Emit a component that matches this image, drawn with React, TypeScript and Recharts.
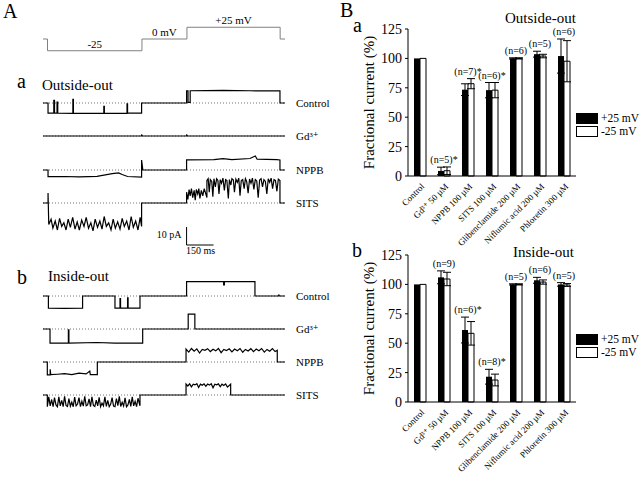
import React from 'react';
import {
  ComposedChart, LineChart, Line, Bar, XAxis, YAxis, ErrorBar, Legend,
  LabelList, ReferenceLine, ReferenceDot,
} from 'recharts';

const FONT = '"Liberation Serif", "Times New Roman", "DejaVu Serif", serif';

// ---------- Panel B data ----------
const categories = [
  'Control', 'Gd\u00B3\u207A 50 \u00B5M', 'NPPB 100 \u00B5M', 'SITS 100 \u00B5M',
  'Glibenclamide 200 \u00B5M', 'Niflumic acid 200 \u00B5M', 'Phloretin 300 \u00B5M',
];
// Outside-out
const ooPos = [100, 4.3, 73.4, 73, 100, 103.6, 102];
const ooPosErr = [0, 3.2, 5, 6.5, 0.5, 2.5, 14.5];
const ooNeg = [100, 4.5, 78.5, 73, 100, 102, 97.6];
const ooNegErr = [0, 3.2, 4.3, 6.5, 0.5, 1.5, 17.5];
const ooN = ['', '(n=5)*', '(n=7)*', '(n=6)*', '(n=6)', '(n=5)', '(n=6)'];
// Inside-out
const ioPos = [100, 106, 61.2, 21.5, 100, 103.5, 100];
const ioPosErr = [0, 5.5, 11, 6.3, 0.5, 2.5, 1.5];
const ioNeg = [100, 104.6, 58.4, 18.7, 100, 102, 99.5];
const ioNegErr = [0, 5.7, 10, 5, 0.5, 1.8, 1.2];
const ioN = ['', '(n=9)', '(n=6)*', '(n=8)*', '(n=5)', '(n=6)', '(n=5)'];
const yTicks = [0, 25, 50, 75, 100, 125];

// ---------- Panel A data (time in ms, current in pA) ----------
const protocolSteps = [
  { from: 25, to: 550, mV: -25, label: '-25' },
  { from: 550, to: 800, mV: 0, label: '0 mV' },
  { from: 800, to: 1318, mV: 25, label: '+25 mV' },
];
const sweepEnd = 1345;

const ooControl: [number, number][] = [
  [0, 0], [28, 0], [28, -5.6], [60, -5.6], [60, 1.5], [64, 1.5], [64, -5.6], [78, -5.6], [78, 0.5], [82, 0.5], [82, -5.6],
  [166, -5.8], [166, 2], [169, 2], [169, -5.8], [338, -5.8], [338, -1.8], [341, -1.8], [341, -5.8],
  [467, -5.8], [467, -0.5], [470, -0.5], [470, -5.6], [548, -5.6], [548, 0], [798, 0], [798, 6.7], [806, 6.7],
  [806, 0.3], [818, 0.3], [818, 6.8], [1000, 7.0], [1150, 6.8], [1317, 6.7], [1317, 0], [1345, 0],
];
const ooGd: [number, number][] = [
  [0, 0], [548, 0], [548, 0.8], [552, 0], [798, 0], [798, 0.8], [802, 0], [1345, 0],
];
const ooNppb: [number, number][] = [
  [0, 0], [28, 0], [28, -3.7], [120, -3.6], [200, -3.8], [300, -3.5], [385, -2.0], [420, -1.6], [440, -2.5],
  [470, -3.6], [548, -3.9], [548, 5.5], [555, 0], [798, 0], [798, 5.6], [950, 5.8], [1000, 6.3], [1050, 5.8],
  [1150, 6.4], [1180, 7.8], [1190, 6.0], [1300, 5.8], [1317, 5.6], [1317, 0], [1345, 0],
];
const ooSits: [number, number][] = [
  [0, 0], [28, 0], [28, 5.5], [32, -12], [45, -9], [55, -14], [68, -10], [80, -15], [92, -8.5], [104, -13], [116, -11],
  [128, -15], [140, -9], [152, -13.5], [165, -8], [178, -14.5], [190, -10.5], [202, -15], [215, -9.5], [228, -13],
  [240, -8], [253, -14], [266, -11], [278, -15.5], [290, -9], [303, -13.5], [316, -10], [328, -14.5], [340, -7.5],
  [352, -13], [365, -11], [378, -15], [390, -9], [402, -14], [415, -10.5], [428, -14.5], [440, -8.5], [452, -13],
  [465, -10], [478, -15], [490, -7.5], [502, -13.5], [515, -10], [528, -15], [540, -8], [548, -13], [548, 0], [798, 0],
  [798, 6], [805, 2], [812, 7.5], [818, 4], [825, 8], [832, 3], [840, 7], [846, 1.5], [852, 7.5], [860, 5], [866, 8],
  [872, 2.5], [880, 7], [888, 4], [896, 8], [911, 3], [911, 12.5], [918, 13.5], [924, 6], [930, 13], [938, 12],
  [944, 3.5], [950, 13.5], [958, 9], [965, 13.5], [972, 12.5], [978, 5], [985, 13], [992, 11], [1000, 13.8],
  [1008, 7], [1015, 13], [1022, 12.5], [1030, 2.5], [1036, 13], [1044, 10], [1050, 13.5], [1058, 12.8], [1064, 6],
  [1072, 13.2], [1080, 11.5], [1088, 13.8], [1095, 4], [1102, 12.5], [1110, 13], [1118, 8], [1125, 13.5], [1132, 12],
  [1140, 5.5], [1148, 13.3], [1156, 11], [1164, 13.8], [1172, 7.5], [1180, 13], [1188, 12.2], [1196, 3], [1204, 12.8],
  [1212, 13.5], [1220, 9], [1228, 13], [1236, 12], [1244, 5], [1252, 13.5], [1260, 11.5], [1268, 13.8], [1276, 8],
  [1284, 13], [1292, 12.4], [1300, 6.5], [1308, 13.2], [1317, 12.5], [1317, 0], [1345, 0],
];
const ioControl: [number, number][] = [
  [0, 0], [30, 0], [30, -6.7], [120, -6.9], [220, -6.7], [220, 0], [400, 0], [400, -6.7], [428, -6.7], [428, -1.5],
  [431, -1.5], [431, -6.7], [470, -6.7], [470, -1], [473, -1], [473, -6.7], [539, -6.7], [539, 0], [798, 0], [798, 8],
  [1004, 8], [1004, 6.2], [1008, 6.2], [1008, 8], [1178, 8], [1178, 0], [1310, 0], [1310, 0.8], [1314, 0], [1345, 0],
];
const ioGd: [number, number][] = [
  [0, 0], [39, 0], [39, -7.8], [141, -7.8], [141, -0.5], [144, -0.5], [144, -7.8], [300, -7.5], [400, -7.8],
  [554, -7.8], [554, 0], [807, 0], [807, 8.3], [844, 8.3], [844, 0], [1345, 0],
];
const ioNppb: [number, number][] = [
  [0, 0], [24, 0], [24, -7.2], [40, -7.2], [40, -4], [43, -7], [80, -6.8], [120, -6.5], [160, -7], [200, -6.2],
  [240, -6.6], [260, -5], [263, -7], [302, -7], [302, 0], [795, 0], [795, 7.2], [810, 5.5], [825, 7.5], [840, 6],
  [855, 7.3], [870, 5], [885, 7], [900, 6.5], [915, 7.4], [930, 5.8], [945, 7.1], [960, 6.2], [975, 7.5], [990, 5.2],
  [1005, 7], [1020, 6.4], [1035, 7.3], [1050, 5.6], [1065, 7.2], [1080, 6.3], [1095, 7.5], [1110, 5.4], [1125, 7],
  [1140, 6.1], [1155, 7.4], [1170, 5.7], [1185, 7.2], [1200, 6.3], [1215, 7.5], [1230, 5.5], [1245, 7], [1260, 6],
  [1275, 7.4], [1290, 5.8], [1302, 6.5], [1302, 0], [1345, 0],
];
const ioSits: [number, number][] = [
  [0, 0], [24, 0], [24, -6.5], [32, -1], [40, -6], [48, -2.5], [56, -6.5], [64, -1.5], [72, -5.5], [80, -6.5],
  [88, -1], [96, -6], [104, -3], [112, -6.5], [120, -0.8], [128, -5.8], [136, -6.4], [144, -2], [152, -6.2],
  [160, -4], [168, -6.5], [176, -1.2], [184, -6], [192, -5], [200, -1.5], [208, -6.5], [216, -3.5], [224, -6.2],
  [232, -0.8], [240, -6], [248, -5.5], [256, -2.2], [264, -6.5], [272, -1], [280, -5.8], [288, -6.4], [296, -2.8],
  [304, -6.1], [312, -1.3], [320, -6.5], [328, -4.5], [336, -6], [344, -1], [352, -6.3], [360, -3], [368, -6.5],
  [376, -5.2], [384, -1.5], [392, -6.2], [400, -6.5], [408, -2], [416, -5.9], [424, -0.8], [432, -6.4], [440, -4],
  [448, -6.1], [456, -1.6], [464, -6.5], [472, -5.5], [480, -2.4], [488, -6.3], [496, -1], [504, -6], [512, -3.5],
  [520, -6.5], [528, -1.8], [539, -6], [539, 0], [795, 0], [795, 6.1], [805, 5], [815, 6.2], [825, 4.5], [835, 6],
  [845, 5.6], [855, 6.3], [865, 4.2], [875, 6], [885, 5.4], [895, 6.2], [905, 4.8], [915, 6.1], [925, 5.5],
  [935, 6.3], [945, 4], [955, 6], [965, 5.7], [975, 6.2], [985, 4.6], [995, 6], [1005, 5.3], [1015, 6.2],
  [1025, 4.4], [1043, 6], [1043, 0], [1345, 0],
];
const scaleBar = [
  { t: 798, i: 10, tag: '' },
  { t: 798, i: 0, tag: 'corner' },
  { t: 948, i: 0, tag: '' },
];

// ---------- helpers ----------
const buildBars = (pos: number[], posErr: number[], neg: number[], negErr: number[], n: string[]) =>
  categories.map((name, k) => ({
    name, pos: pos[k], posErr: posErr[k], neg: neg[k], negErr: negErr[k], n: n[k],
    nPos: Math.max(pos[k] + posErr[k], neg[k] + negErr[k]),
  }));

const protocolData = (() => {
  const pts: { t: number; v: number }[] = [{ t: 0, v: 0 }];
  protocolSteps.forEach((s, k) => {
    const prev = k === 0 ? 0 : protocolSteps[k - 1].mV;
    pts.push({ t: s.from, v: prev });
    pts.push({ t: s.from, v: s.mV });
    pts.push({ t: s.to, v: s.mV });
  });
  pts.push({ t: protocolSteps[protocolSteps.length - 1].to, v: 0 });
  pts.push({ t: sweepEnd, v: 0 });
  return pts;
})();

const TRACE_W = 242;
const TRACE_LEFT = 43;
const PA_HALF = 16.667; // 60 px for 33.3 pA

const CatTick = (props: any) => {
  const { x, y, payload } = props;
  return (
    <g transform={`translate(${x + 5},${y + 11})`}>
      <text textAnchor="end" transform="rotate(-45)" fontSize={9} fontFamily={FONT} fill="#000">
        {payload.value}
      </text>
    </g>
  );
};

const NLabel = (p: any) => {
  if (!p.value) return null;
  const x = p.viewBox?.x ?? p.x;
  const y = p.viewBox?.y ?? p.y;
  return (
    <text x={x} y={y - 4} textAnchor="middle" fontSize={10} fontFamily={FONT} fill="#000">{p.value}</text>
  );
};

const LegendBox = (props: any) => {
  const items = (props.payload || []).filter((e: any) => e.type !== 'none');
  return (
    <div style={{ width: 64, fontFamily: FONT, fontSize: 11.5, color: '#000' }}>
      {items.map((e: any, k: number) => (
        <div key={k} style={{ display: 'flex', alignItems: 'center', height: 12, marginBottom: 1 }}>
          <div style={{ width: 22, height: 11, boxSizing: 'border-box', border: '1px solid #000', background: e.color }} />
          <span style={{ marginLeft: 3, lineHeight: '11px' }}>{e.value}</span>
        </div>
      ))}
    </div>
  );
};

function FractionChart({ data, top, height, legendTop }: { data: any[]; top: number; height: number; legendTop: number }) {
  return (
    <div style={{ position: 'absolute', left: 340, top }}>
      <ComposedChart width={300} height={height} data={data}
        margin={{ top: 29, right: 0, bottom: height - 241, left: 0 }} barGap={0} barSize={6}>
        <XAxis dataKey="name" type="category" height={65} tickSize={0} tickMargin={0} interval={0}
          axisLine={{ stroke: '#000' }} tickLine={false} tick={<CatTick />} />
        <YAxis type="number" domain={[0, 125]} ticks={yTicks} width={68} tickSize={3} tickMargin={3}
          axisLine={{ stroke: '#000' }} tickLine={{ stroke: '#000' }}
          tick={{ fontSize: 14, fill: '#000', fontFamily: FONT }}
          label={{ value: 'Fractional current (%)', angle: -90, position: 'insideLeft', offset: 29, fill: '#000',
            style: { textAnchor: 'middle', fontSize: 15, fill: '#000', fontFamily: FONT } }} />
        <Legend layout="vertical" align="right" verticalAlign="middle" wrapperStyle={{ top: legendTop }}
          content={LegendBox} />
        <Bar dataKey="pos" name="+25 mV" fill="#000" isAnimationActive={false}>
          <ErrorBar dataKey="posErr" width={4} stroke="#000" strokeWidth={1} direction="y" />
        </Bar>
        <Bar dataKey="neg" name="-25 mV" fill="#fff" stroke="#000" strokeWidth={1} isAnimationActive={false}>
          <ErrorBar dataKey="negErr" width={4} stroke="#000" strokeWidth={1} direction="y" />
        </Bar>
        <Line dataKey="nPos" stroke="none" dot={false} activeDot={false} legendType="none" isAnimationActive={false}>
          <LabelList dataKey="n" content={NLabel} />
        </Line>
      </ComposedChart>
    </div>
  );
}

function Trace({ pts, baseline, label }: { pts: [number, number][]; baseline: number; label: string }) {
  const data = pts.map(([t, i]) => ({ t, i }));
  return (
    <div style={{ position: 'absolute', left: TRACE_LEFT, top: baseline - 30 }}>
      <LineChart width={TRACE_W + 60} height={60} data={data} margin={{ top: 0, right: 60, bottom: 0, left: 0 }}>
        <XAxis type="number" dataKey="t" domain={[0, sweepEnd]} hide />
        <YAxis type="number" domain={[-PA_HALF, PA_HALF]} hide />
        <ReferenceLine y={0} stroke="#777" strokeDasharray="1 2"
          label={{ value: label, position: 'right', offset: 11, fill: '#000', fontSize: 11, fontFamily: FONT }} />
        <Line dataKey="i" type="linear" stroke="#000" strokeWidth={1.2} dot={false} isAnimationActive={false} />
      </LineChart>
    </div>
  );
}

const ScaleLabel = (p: any) => {
  if (p.value !== 'corner') return null;
  const x = p.viewBox?.x ?? p.x;
  const y = p.viewBox?.y ?? p.y;
  return (
    <g fontFamily={FONT} fontSize={10} fill="#000">
      <text x={x - 5} y={y - 7} textAnchor="end">10 pA</text>
      <text x={x + 14} y={y + 9} textAnchor="middle">150 ms</text>
    </g>
  );
};

export default function App() {
  const ooData = buildBars(ooPos, ooPosErr, ooNeg, ooNegErr, ooN);
  const ioData = buildBars(ioPos, ioPosErr, ioNeg, ioNegErr, ioN);
  const txt = (x: number, y: number, s: string, size: number) => (
    <text x={x} y={y} fontSize={size} fontFamily={FONT} fill="#000">{s}</text>
  );
  return (
    <div style={{ position: 'absolute', left: 0, top: 0, width: 640, height: 477, background: '#fff', overflow: 'hidden' }}>
      <svg width={640} height={477} style={{ position: 'absolute', left: 0, top: 0 }}>
        {txt(3, 18, 'A', 20)}
        {txt(17, 88, 'a', 20)}
        {txt(42, 90, 'Outside-out', 15)}
        {txt(17, 284, 'b', 20)}
        {txt(48, 281, 'Inside-out', 15)}
        {txt(340, 17, 'B', 20)}
        {txt(353, 32, 'a', 20)}
        {txt(352, 257, 'b', 20)}
        {txt(505, 23, 'Outside-out', 15)}
        {txt(513, 257, 'Inside-out', 15)}
      </svg>

      {/* stimulation protocol */}
      <div style={{ position: 'absolute', left: TRACE_LEFT, top: 0 }}>
        <LineChart width={TRACE_W} height={78} data={protocolData} margin={{ top: 0, right: 0, bottom: 0, left: 0 }}>
          <XAxis type="number" dataKey="t" domain={[0, sweepEnd]} hide />
          <YAxis type="number" domain={[-83, 83]} hide />
          <Line dataKey="v" type="linear" stroke="#808080" strokeWidth={1} dot={false} isAnimationActive={false} />
          {protocolSteps.map((s) => (
            <ReferenceDot key={s.label} x={(s.from + s.to) / 2} y={s.mV} r={0} stroke="none" fill="none"
              label={{ value: s.label, position: 'top', offset: 3, fill: '#000', fontSize: 11, fontFamily: FONT }} />
          ))}
        </LineChart>
      </div>

      <Trace pts={ooControl} baseline={103} label="Control" />
      <Trace pts={ooGd} baseline={136} label={'Gd\u00B3\u207A'} />
      <Trace pts={ooNppb} baseline={170} label="NPPB" />
      <Trace pts={ooSits} baseline={203} label="SITS" />

      {/* scale bar */}
      <div style={{ position: 'absolute', left: TRACE_LEFT, top: 215 }}>
        <LineChart width={TRACE_W} height={60} data={scaleBar} margin={{ top: 0, right: 0, bottom: 0, left: 0 }}>
          <XAxis type="number" dataKey="t" domain={[0, sweepEnd]} hide />
          <YAxis type="number" domain={[-PA_HALF, PA_HALF]} hide />
          <Line dataKey="i" type="linear" stroke="#000" strokeWidth={1} dot={false} isAnimationActive={false}>
            <LabelList dataKey="tag" content={ScaleLabel} />
          </Line>
        </LineChart>
      </div>

      <Trace pts={ioControl} baseline={296} label="Control" />
      <Trace pts={ioGd} baseline={329} label={'Gd\u00B3\u207A'} />
      <Trace pts={ioNppb} baseline={362} label="NPPB" />
      <Trace pts={ioSits} baseline={395} label="SITS" />

      <FractionChart data={ooData} top={0} height={252} legendTop={112} />
      <FractionChart data={ioData} top={226} height={251} legendTop={107} />
    </div>
  );
}
